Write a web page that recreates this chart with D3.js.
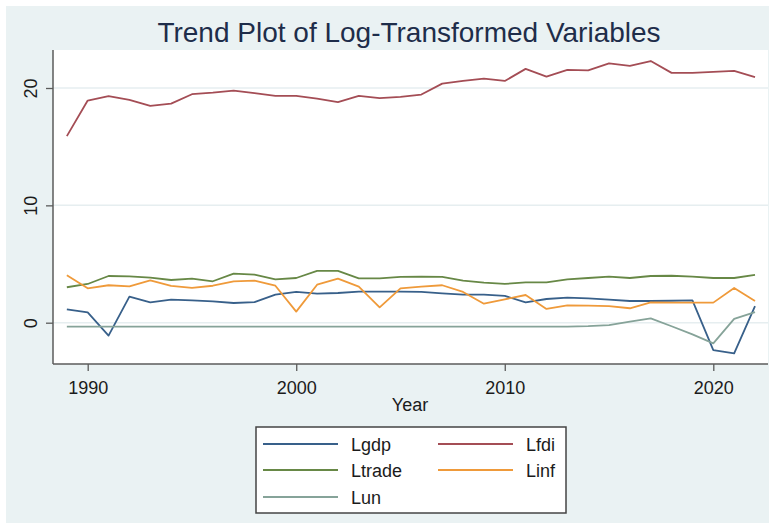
<!DOCTYPE html>
<meta charset="utf-8">
<style>
  body { margin: 0; background: #fff; }
  text { font-family: Arial, "Liberation Sans", sans-serif; }
</style>
<script src="https://d3js.org/d3.v7.min.js"></script>
<div id="chart"></div>
<script>

// Data
var years = [1989, 1990, 1991, 1992, 1993, 1994, 1995, 1996, 1997, 1998, 1999, 2000,
             2001, 2002, 2003, 2004, 2005, 2006, 2007, 2008, 2009, 2010, 2011, 2012,
             2013, 2014, 2015, 2016, 2017, 2018, 2019, 2020, 2021, 2022]
var lgdp = [1.14, 0.88, -1.1, 2.22, 1.74, 1.96, 1.9, 1.82, 1.68, 1.76, 2.39, 2.62,
            2.47, 2.53, 2.64, 2.64, 2.64, 2.62, 2.5, 2.39, 2.39, 2.28, 1.74, 2.02,
            2.13, 2.08, 1.96, 1.85, 1.85, 1.87, 1.9, -2.33, -2.61, 1.42]
var lfdi = [15.9, 18.93, 19.3, 18.99, 18.47, 18.67, 19.47, 19.6, 19.78, 19.56, 19.33, 19.33,
            19.1, 18.8, 19.33, 19.13, 19.24, 19.44, 20.37, 20.6, 20.8, 20.6, 21.63, 20.97,
            21.54, 21.5, 22.1, 21.88, 22.3, 21.29, 21.29, 21.37, 21.46, 20.92]
var ltrade = [3.02, 3.3, 3.98, 3.95, 3.84, 3.64, 3.75, 3.53, 4.18, 4.09, 3.7, 3.81,
              4.41, 4.41, 3.78, 3.78, 3.9, 3.92, 3.9, 3.58, 3.41, 3.3, 3.44, 3.44,
              3.7, 3.81, 3.92, 3.81, 3.98, 4.0, 3.92, 3.81, 3.81, 4.07]
var linf = [4.04, 2.93, 3.19, 3.1, 3.61, 3.13, 2.96, 3.15, 3.53, 3.58, 3.15, 0.94,
            3.24, 3.75, 3.07, 1.31, 2.93, 3.07, 3.19, 2.62, 1.62, 1.99, 2.36, 1.17,
            1.48, 1.45, 1.42, 1.23, 1.74, 1.71, 1.71, 1.71, 2.96, 1.85]
var lun = [-0.34, -0.34, -0.34, -0.34, -0.34, -0.34, -0.34, -0.34, -0.34, -0.34, -0.34, -0.34,
           -0.34, -0.34, -0.34, -0.34, -0.34, -0.34, -0.34, -0.34, -0.34, -0.34, -0.34, -0.34,
           -0.34, -0.3, -0.2, 0.09, 0.37, -0.3, -1.0, -1.76, 0.32, 0.91]

var seriesNames = ["Lgdp", "Lfdi", "Ltrade", "Linf", "Lun"]
var seriesValues = [lgdp, lfdi, ltrade, linf, lun]
var seriesColors = ["#38608a", "#a44d55", "#678846", "#ef9a3a", "#86a399"]
var xTicks = [1990, 2000, 2010, 2020]
var yTicks = [0, 10, 20]

var W = 769, H = 524
var plot = {left: 53, right: 768, top: 50, bottom: 364}

var svg = d3.select("#chart")
  .append("svg")
    .attr("width", W)
    .attr("height", H)

// outer background
svg.append("rect")
  .attr("x", 6).attr("y", 6)
  .attr("width", W - 6).attr("height", H - 7)
  .attr("fill", "#eaf2f3")

// plot region
svg.append("rect")
  .attr("x", plot.left).attr("y", plot.top)
  .attr("width", plot.right - plot.left).attr("height", plot.bottom - plot.top)
  .attr("fill", "#ffffff")

var x = d3.scaleLinear()
  .domain([1990, 2020])
  .range([87.7, 713.3])

var y = d3.scaleLinear()
  .domain([0, 20])
  .range([322.7, 88])

// gridlines
svg.append("g")
  .selectAll("line")
  .data(yTicks)
  .enter()
  .append("line")
    .attr("x1", plot.left).attr("x2", plot.right)
    .attr("y1", function(d) { return y(d) })
    .attr("y2", function(d) { return y(d) })
    .attr("stroke", "#e6eef0")
    .attr("stroke-width", 1.5)

// lines
var line = d3.line()
  .x(function(d, i) { return x(years[i]) })
  .y(function(d) { return y(d) })

svg.append("g")
  .selectAll("path")
  .data(seriesValues)
  .enter()
  .append("path")
    .attr("d", function(d) { return line(d) })
    .attr("fill", "none")
    .attr("stroke", function(d, i) { return seriesColors[i] })
    .attr("stroke-width", 1.8)
    .attr("stroke-linejoin", "round")

// y axis
var yAxis = svg.append("g")
  .attr("transform", "translate(" + plot.left + ",0)")
  .call(d3.axisLeft(y).tickValues(yTicks).tickSize(7).tickSizeOuter(0))
yAxis.select(".domain").remove()
yAxis.selectAll(".tick line").attr("stroke", "#5b5b5b").attr("stroke-width", 1.3)
yAxis.selectAll(".tick text")
  .attr("x", 0).attr("dy", 0)
  .attr("transform", "translate(-16,0) rotate(-90)")
  .attr("text-anchor", "middle")
  .attr("font-size", "18px")
  .attr("fill", "#1b1b1b")

// x axis
var xAxis = svg.append("g")
  .attr("transform", "translate(0," + plot.bottom + ")")
  .call(d3.axisBottom(x).tickValues(xTicks).tickFormat(d3.format("d")).tickSize(7).tickSizeOuter(0))
xAxis.select(".domain").remove()
xAxis.selectAll(".tick line").attr("stroke", "#5b5b5b").attr("stroke-width", 1.3)
xAxis.selectAll(".tick text")
  .attr("y", 30).attr("dy", 0)
  .attr("font-size", "18px")
  .attr("fill", "#1b1b1b")

// axis lines
svg.append("line")
  .attr("x1", plot.left).attr("x2", plot.left)
  .attr("y1", plot.top).attr("y2", plot.bottom)
  .attr("stroke", "#5b5b5b").attr("stroke-width", 1.5)
svg.append("line")
  .attr("x1", plot.left).attr("x2", plot.right)
  .attr("y1", plot.bottom).attr("y2", plot.bottom)
  .attr("stroke", "#5b5b5b").attr("stroke-width", 1.5)

// titles
svg.append("text")
  .attr("x", 409).attr("y", 42)
  .attr("text-anchor", "middle")
  .attr("font-size", "28px")
  .attr("fill", "#1e2d4a")
  .text("Trend Plot of Log-Transformed Variables")

svg.append("text")
  .attr("x", 410).attr("y", 411)
  .attr("text-anchor", "middle")
  .attr("font-size", "18px")
  .attr("fill", "#1b1b1b")
  .text("Year")

// legend
var legend = svg.append("g")
legend.append("rect")
  .attr("x", 256).attr("y", 427)
  .attr("width", 310).attr("height", 86)
  .attr("fill", "#ffffff")
  .attr("stroke", "#444")
  .attr("stroke-width", 1.5)

var legPos = [[263, 444], [438, 444], [263, 470], [438, 470], [263, 497]]
var items = legend.selectAll(".item")
  .data(seriesNames)
  .enter()
  .append("g")
    .attr("class", "item")
    .attr("transform", function(d, i) { return "translate(" + legPos[i][0] + "," + legPos[i][1] + ")" })
items.append("line")
  .attr("x1", 0).attr("x2", 75)
  .attr("y1", 0).attr("y2", 0)
  .attr("stroke", function(d, i) { return seriesColors[i] })
  .attr("stroke-width", 1.8)
items.append("text")
  .attr("x", 88).attr("y", 6.5)
  .attr("font-size", "18px")
  .attr("fill", "#1b1b1b")
  .text(function(d) { return d })

</script>
